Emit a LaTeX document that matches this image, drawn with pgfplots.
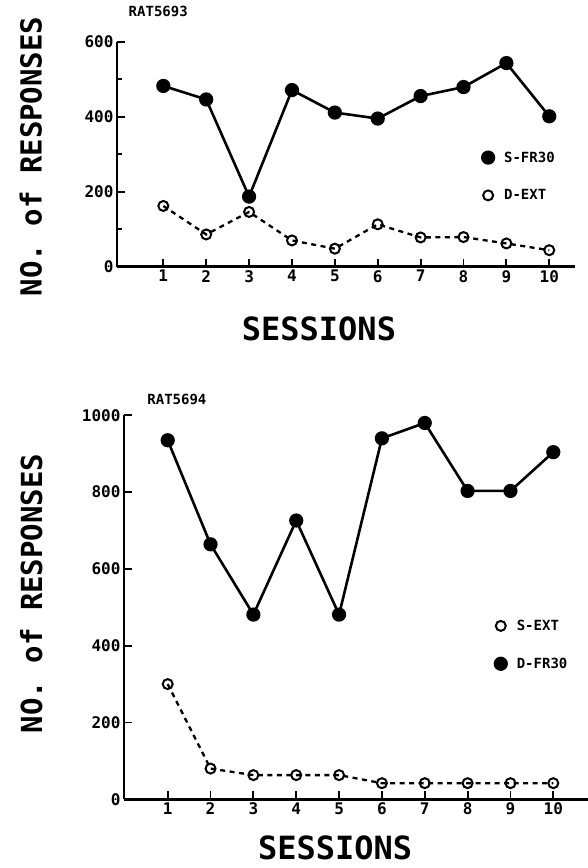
\documentclass[border=0pt]{standalone}
\usepackage{pgfplots}
\pgfplotsset{compat=1.18}
\usepackage{fontspec}
\setmainfont{DejaVu Sans Mono}
\usepackage{graphicx}

\pgfplotsset{
  ratstyle/.style={
    scale only axis,
    axis lines*=left,
    tick pos=left,
    axis line style={line width=2.6pt},
    tick style={line width=1.8pt, black},
    tick align=inside,
    major tick length=8pt,
    minor tick length=5pt,
    xtick={1,...,10},
    ticklabel style={font=\bfseries\fontsize{16}{16}\selectfont},
    /pgf/number format/assume math mode=true,
    /pgf/number format/1000 sep={},
    clip=false,
    xlabel style={anchor=base, inner sep=0pt, font=\bfseries\fontsize{32}{32}\selectfont},
    ylabel style={anchor=center, font=\bfseries\fontsize{29}{29}\selectfont},
    title style={anchor=center, font=\bfseries\fontsize{14}{14}\selectfont},
    legend cell align=left,
    legend image code/.code={
      \path[draw=none, fill=none] (0pt,-5pt) rectangle (20pt,5pt);
      \draw[#1] plot coordinates {(6pt,0pt)};
    },
  },
  solidser/.style={black, line width=2.6pt, mark=*, mark size=5.8pt, mark options={solid}},
  dashser/.style={black, line width=2.3pt, dash pattern=on 5pt off 4.5pt, mark=o, mark size=5pt, mark options={solid, line width=2pt, fill=white}},
}

\begin{document}
\begin{tikzpicture}
\useasboundingbox (0pt,0pt) rectangle (588pt,868pt);

% ---------- top panel ----------
\begin{axis}[ratstyle,
  at={(117pt,601.3pt)}, anchor=south west,
  width=458pt, height=225pt,
  xmin=-0.08, xmax=10.6, ymin=0, ymax=600,
  ytick={0,200,400,600}, minor ytick={100,300,500},
  xlabel={SESSIONS}, xlabel style={at={(axis description cs:0.441,-0.326)}},
  ylabel={NO. of RESPONSES}, ylabel style={at={(axis description cs:-0.188,0.49)}},
  title={RAT5693}, title style={at={(axis description cs:0.09,1.11)}},
  legend style={draw=none, fill=none, at={(axis cs:8.36,318)}, anchor=north west,
    row sep=22pt, font=\bfseries\fontsize{14}{14}\selectfont},
]
\addplot[solidser] coordinates {
 (1,482) (2,446) (3,187) (4,471) (5,411) (6,395) (7,455) (8,479) (9,543) (10,401)};
\addplot[dashser] coordinates {
 (1,162) (2,86) (3,146) (4,70) (5,48) (6,113) (7,78) (8,79) (9,62) (10,44)};
\legend{S-FR30, D-EXT}
\end{axis}

% ---------- bottom panel ----------
\begin{axis}[ratstyle,
  at={(124pt,68.7pt)}, anchor=south west,
  width=464pt, height=384pt,
  xmin=-0.02, xmax=10.81, ymin=0, ymax=1000,
  ytick={0,200,400,600,800,1000},
  xlabel={SESSIONS}, xlabel style={at={(axis description cs:0.455,-0.157)}},
  ylabel={NO. of RESPONSES}, ylabel style={at={(axis description cs:-0.2,0.536)}},
  title={RAT5694}, title style={at={(axis description cs:0.114,1.025)}},
  legend style={draw=none, fill=none, at={(axis cs:8.56,478)}, anchor=north west,
    row sep=22pt, font=\bfseries\fontsize{14}{14}\selectfont},
]
\addplot[dashser] coordinates {
 (1,300) (2,80) (3,63) (4,63) (5,63) (6,42) (7,42) (8,42) (9,42) (10,42)};
\addplot[solidser] coordinates {
 (1,935) (2,664) (3,481) (4,726) (5,481) (6,940) (7,980) (8,803) (9,803) (10,904)};
\legend{S-EXT, D-FR30}
\end{axis}
\end{tikzpicture}
\end{document}
